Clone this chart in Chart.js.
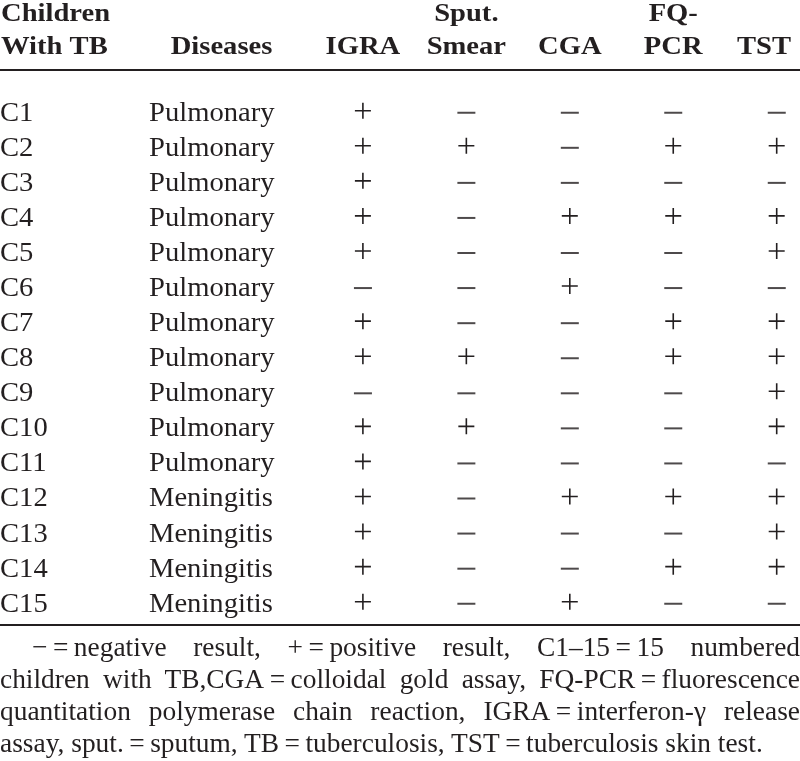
<!DOCTYPE html>
<html>
<head>
<meta charset="utf-8">
<script src="https://cdn.jsdelivr.net/npm/chart.js@4.4.0/dist/chart.umd.min.js"></script>
<style>
  html, body { margin: 0; padding: 0; background: #fff; }
  #wrap { position: relative; width: 800px; height: 761px; overflow: hidden; }
  #tableChart { position: absolute; left: 0; top: 0; }
  #note {
    position: absolute; left: 0; top: 631px; width: 800px;
    font-family: 'Liberation Serif', 'Times New Roman', serif;
    font-size: 27.4px; line-height: 32px; color: #231f20;
  }
  #note div { text-align: justify; text-align-last: justify; white-space: nowrap; }
  #note div.first { text-indent: 32px; }
  #note div.last { text-align-last: left; }
</style>
</head>
<body>
<div id="wrap">
  <canvas id="tableChart" width="800" height="640"></canvas>
  <div id="note">
    <div class="first">&minus;&#8239;=&#8239;negative result, +&#8239;=&#8239;positive result, C1&ndash;15&#8239;=&#8239;15 numbered</div>
    <div>children with TB,CGA&#8239;=&#8239;colloidal gold assay, FQ-PCR&#8239;=&#8239;fluorescence</div>
    <div>quantitation polymerase chain reaction, IGRA&#8239;=&#8239;interferon-&gamma; release</div>
    <div class="last">assay, sput.&#8239;=&#8239;sputum, TB&#8239;=&#8239;tuberculosis, TST&#8239;=&#8239;tuberculosis skin test.</div>
  </div>
</div>
<script>
// Table data: one row per child, 1 = positive (+), 0 = negative (−)
const children = ['C1', 'C2', 'C3', 'C4', 'C5', 'C6', 'C7', 'C8', 'C9', 'C10', 'C11', 'C12', 'C13', 'C14', 'C15'];
const diseases = ['Pulmonary', 'Pulmonary', 'Pulmonary', 'Pulmonary', 'Pulmonary', 'Pulmonary', 'Pulmonary',
                  'Pulmonary', 'Pulmonary', 'Pulmonary', 'Pulmonary', 'Meningitis', 'Meningitis', 'Meningitis', 'Meningitis'];
const tests = ['IGRA', 'Sput. Smear', 'CGA', 'FQ-PCR', 'TST'];
const testHeaders = [['IGRA'], ['Sput.', 'Smear'], ['CGA'], ['FQ-', 'PCR'], ['TST']];
const igra     = [1, 1, 1, 1, 1, 0, 1, 1, 0, 1, 1, 1, 1, 1, 1];
const sputum   = [0, 1, 0, 0, 0, 0, 0, 1, 0, 1, 0, 0, 0, 0, 0];
const cga      = [0, 0, 0, 1, 0, 1, 0, 0, 0, 0, 0, 1, 0, 0, 1];
const fqPcr    = [0, 1, 0, 1, 0, 0, 1, 1, 0, 0, 0, 1, 0, 1, 0];
const tst      = [0, 1, 0, 1, 1, 0, 1, 1, 1, 1, 0, 1, 1, 1, 0];

const ink = '#231f20';
const results = [igra, sputum, cga, fqPcr, tst];

// Build the + and − point lists from the result arrays
function pointsFor(wanted) {
    const pts = [];
    results.forEach((col, t) => {
        col.forEach((v, r) => {
            if (v === wanted) pts.push({ x: tests[t], y: children[r] });
        });
    });
    return pts;
}

// The minus glyph sits a little lower than the plus, so draw it as a small image
const minusMark = document.createElement('canvas');
minusMark.width = 20;
minusMark.height = 24;
(function () {
    const m = minusMark.getContext('2d');
    m.fillStyle = ink;
    m.fillRect(1, 13.2, 18, 1.6);
})();

// Text drawn slightly wider, like the typeset original
function drawText(ctx, text, x, y, sx, align) {
    ctx.save();
    ctx.translate(x, y);
    ctx.scale(sx, 1);
    ctx.textAlign = align;
    ctx.fillText(text, 0, 0);
    ctx.restore();
}

// Draws header, row labels and the horizontal rules
const tableText = {
    id: 'tableText',
    afterDatasetsDraw(chart) {
        const { ctx, scales: { x, y } } = chart;
        ctx.save();
        ctx.fillStyle = ink;
        ctx.textBaseline = 'alphabetic';

        // header
        const bsx = 1.1;
        ctx.font = 'bold 26px "Liberation Serif"';
        drawText(ctx, 'Children', 1, 20.5, bsx, 'left');
        drawText(ctx, 'With TB', 1, 54, bsx, 'left');
        drawText(ctx, 'Diseases', 221.5, 54, bsx, 'center');
        testHeaders.forEach((lines, i) => {
            let cx = x.getPixelForValue(i);
            const w = Math.max(...lines.map(s => ctx.measureText(s).width)) * bsx;
            cx = Math.min(cx, 791 - w / 2);
            if (lines.length === 2) {
                drawText(ctx, lines[0], cx, 20.5, bsx, 'center');
                drawText(ctx, lines[1], cx, 54, bsx, 'center');
            } else {
                drawText(ctx, lines[0], cx, 54, bsx, 'center');
            }
        });

        // rules
        ctx.fillRect(0, 69, 800, 2);
        ctx.fillRect(0, 624, 800, 2);

        // row labels
        ctx.font = '27.5px "Liberation Serif"';
        children.forEach((c, i) => {
            const cy = y.getPixelForValue(i) + 10;
            drawText(ctx, c, 0, cy, 1.04, 'left');
            drawText(ctx, diseases[i], 149, cy, 1.04, 'left');
        });
        ctx.restore();
    }
};

const ctx = document.getElementById('tableChart').getContext('2d');
new Chart(ctx, {
    type: 'scatter',
    data: {
        datasets: [{
            label: 'positive',
            data: pointsFor(1),
            pointStyle: 'cross',
            pointRadius: 8,
            pointBorderWidth: 1.6,
            borderColor: ink,
            backgroundColor: ink,
            clip: false
        }, {
            label: 'negative',
            data: pointsFor(0),
            pointStyle: minusMark,
            pointRadius: 9,
            borderColor: ink,
            backgroundColor: ink,
            clip: false
        }]
    },
    options: {
        responsive: false,
        animation: false,
        layout: { padding: { left: 362.9, right: 23.3, top: 110.7, bottom: 38.3 } },
        scales: {
            x: { type: 'category', labels: tests, offset: false, display: false },
            y: { type: 'category', labels: children, offset: false, display: false }
        },
        plugins: {
            legend: { display: false },
            tooltip: { enabled: false }
        },
        events: []
    },
    plugins: [tableText]
});
</script>
</body>
</html>
